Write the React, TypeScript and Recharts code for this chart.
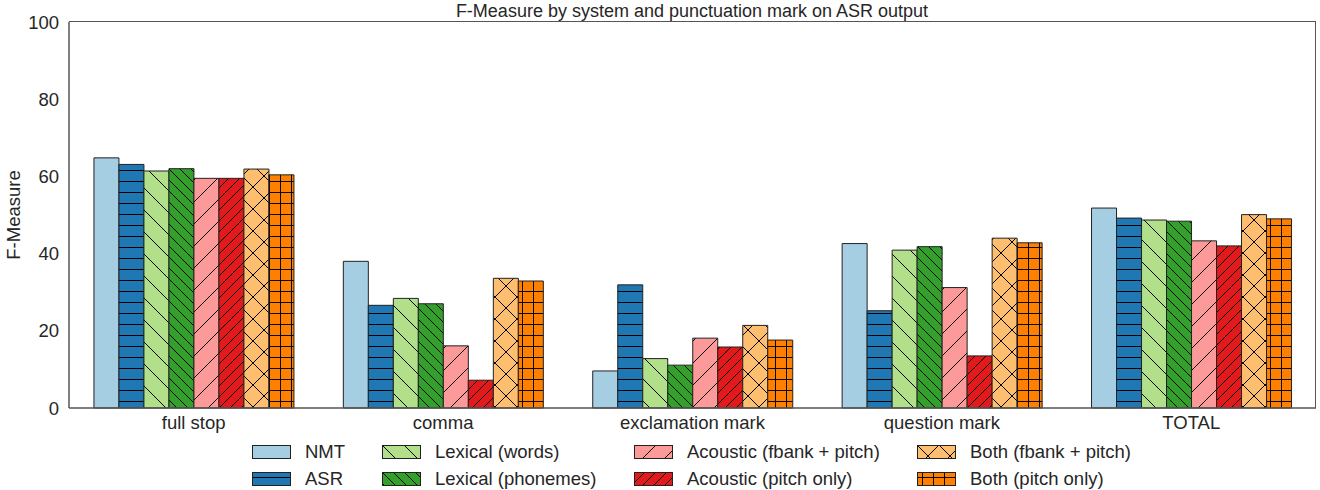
import { BarChart, Bar, XAxis, YAxis, Legend } from "recharts";

const categories = ["full stop", "comma", "exclamation mark", "question mark", "TOTAL"];
const systems = [
  "NMT",
  "ASR",
  "Lexical (words)",
  "Lexical (phonemes)",
  "Acoustic (fbank + pitch)",
  "Acoustic (pitch only)",
  "Both (fbank + pitch)",
  "Both (pitch only)",
];
const nmt = [64.8, 38.0, 9.6, 42.6, 51.8];
const asr = [63.1, 26.6, 31.9, 25.2, 49.2];
const lexWords = [61.4, 28.4, 12.8, 40.9, 48.7];
const lexPhonemes = [62.0, 27.0, 11.1, 41.8, 48.4];
const acFbank = [59.5, 16.1, 18.1, 31.2, 43.3];
const acPitch = [59.5, 7.2, 15.8, 13.5, 42.0];
const bothFbank = [61.9, 33.6, 21.4, 44.0, 50.1];
const bothPitch = [60.4, 32.9, 17.6, 42.8, 49.0];
const yTicks = [0, 20, 40, 60, 80, 100];

const series = [nmt, asr, lexWords, lexPhonemes, acFbank, acPitch, bothFbank, bothPitch];
const colors = ["#a6cee3", "#1f78b4", "#b2df8a", "#33a02c", "#fb9a99", "#e31a1c", "#fdbf6f", "#ff7f00"];
const hatches = ["", "-", "\\", "\\\\", "/", "//", "x", "+"];

const data = categories.map((name, i) => {
  const row: Record<string, number | string> = { name };
  systems.forEach((s, j) => (row[s] = series[j][i]));
  return row;
});

const FONT = "'Liberation Sans', Arial, sans-serif";
const TXT = "#262626";

// svg hatch pattern, like matplotlib's hatch strings
function Hatch({ id, color, hatch }: { id: string; color: string; hatch: string }) {
  const dense = hatch.length > 1 || hatch === "-" || hatch === "+";
  const s = dense ? 11 : 22;
  const ln = { stroke: "#000", strokeWidth: 1 };
  let lines = null;
  const h = hatch[0];
  if (h === "-") lines = <line x1={0} y1={s / 2} x2={s} y2={s / 2} {...ln} />;
  else if (h === "\\")
    lines = (
      <>
        <line x1={0} y1={0} x2={s} y2={s} {...ln} />
        <line x1={-1} y1={s - 1} x2={1} y2={s + 1} {...ln} />
        <line x1={s - 1} y1={-1} x2={s + 1} y2={1} {...ln} />
      </>
    );
  else if (h === "/")
    lines = (
      <>
        <line x1={0} y1={s} x2={s} y2={0} {...ln} />
        <line x1={-1} y1={1} x2={1} y2={-1} {...ln} />
        <line x1={s - 1} y1={s + 1} x2={s + 1} y2={s - 1} {...ln} />
      </>
    );
  else if (h === "x")
    lines = (
      <>
        <line x1={0} y1={0} x2={s} y2={s} {...ln} />
        <line x1={0} y1={s} x2={s} y2={0} {...ln} />
      </>
    );
  else if (h === "+")
    lines = (
      <>
        <line x1={0} y1={s / 2} x2={s} y2={s / 2} {...ln} />
        <line x1={s / 2} y1={0} x2={s / 2} y2={s} {...ln} />
      </>
    );
  return (
    <pattern id={id} patternUnits="userSpaceOnUse" width={s} height={s}>
      <rect width={s} height={s} fill={color} />
      {lines}
    </pattern>
  );
}

const legendCols = [252, 382, 634, 917];

function LegendBox() {
  return (
    <div style={{ position: "relative", width: 1320, height: 54, fontFamily: FONT, fontSize: 18.5, color: TXT }}>
      {systems.map((s, i) => {
        const col = Math.floor(i / 2);
        const row = i % 2;
        return (
          <div
            key={s}
            style={{ position: "absolute", left: legendCols[col], top: 5 + row * 27, display: "flex", alignItems: "center", height: 22 }}
          >
            <svg width={40} height={15} style={{ marginRight: 13 }}>
              <defs>
                <Hatch id={`lg-${i}`} color={colors[i]} hatch={hatches[i]} />
              </defs>
              <rect x={0.5} y={0.5} width={38} height={13} fill={`url(#lg-${i})`} stroke="#222" strokeWidth={1} />
            </svg>
            <span>{s}</span>
          </div>
        );
      })}
    </div>
  );
}

export default function App() {
  return (
    <div style={{ position: "absolute", left: 0, top: 0, width: 1320, height: 490, background: "#fff" }}>
      <div
        style={{
          position: "absolute",
          left: 0,
          width: 1384,
          top: 1,
          textAlign: "center",
          fontFamily: FONT,
          fontSize: 18,
          color: TXT,
          zIndex: 2,
        }}
      >
        F-Measure by system and punctuation mark on ASR output
      </div>
      {/* top and right frame of the axes box */}
      <div
        style={{
          position: "absolute",
          left: 69,
          top: 21,
          width: 1246,
          height: 386,
          borderTop: "1.5px solid #555",
          borderRight: "1.5px solid #555",
          pointerEvents: "none",
        }}
      />
      <BarChart
        width={1320}
        height={490}
        data={data}
        margin={{ top: 22, right: 4, left: 0, bottom: 0 }}
        barCategoryGap="10%"
        barGap={0}
      >
        <defs>
          {colors.map((c, i) => (
            <Hatch key={i} id={`pat-${i}`} color={c} hatch={hatches[i]} />
          ))}
        </defs>
        <XAxis
          dataKey="name"
          height={28}
          tickLine={false}
          axisLine={{ stroke: "#555", strokeWidth: 1.5 }}
          tick={{ fontSize: 18.5, fill: TXT, fontFamily: FONT }}
          tickMargin={2}
          interval={0}
        />
        <YAxis
          width={69}
          domain={[0, 100]}
          ticks={yTicks}
          tickLine={false}
          axisLine={{ stroke: "#555", strokeWidth: 1.5 }}
          tick={{ fontSize: 18.5, fill: TXT, fontFamily: FONT }}
          tickMargin={4}
          label={{
            value: "F-Measure",
            angle: -90,
            position: "insideLeft",
            dx: 8,
            style: { fontSize: 18.5, fill: TXT, fontFamily: FONT, textAnchor: "middle" },
          }}
        />
        {systems.map((s, i) => (
          <Bar
            key={s}
            dataKey={s}
            fill={`url(#pat-${i})`}
            stroke="#222"
            strokeWidth={1}
            isAnimationActive={false}
          />
        ))}
        <Legend
          verticalAlign="bottom"
          content={() => <LegendBox />}
          wrapperStyle={{ left: 0, bottom: 0, width: 1320, height: 54 }}
        />
      </BarChart>
    </div>
  );
}
